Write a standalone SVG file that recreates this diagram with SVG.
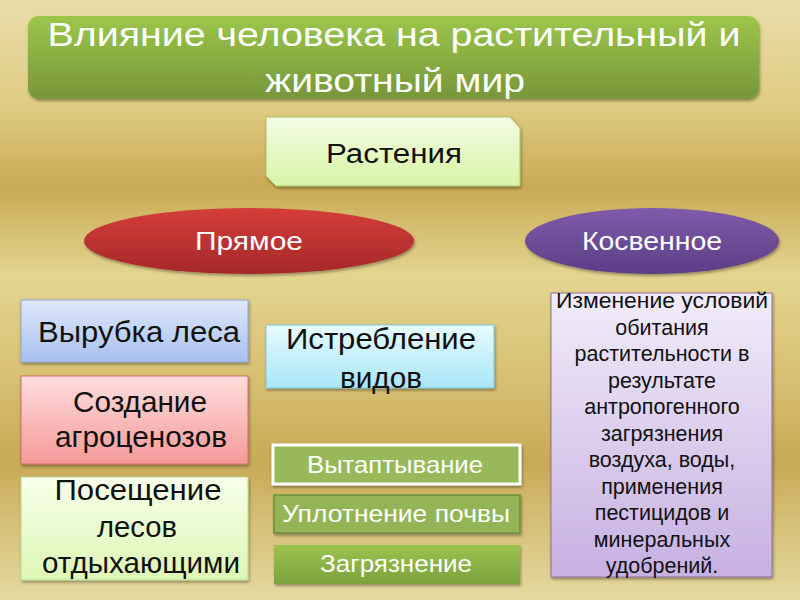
<svg xmlns="http://www.w3.org/2000/svg" width="800" height="600" viewBox="0 0 800 600">
<defs>
<linearGradient id="bg" x1="0" y1="0" x2="0" y2="1">
<stop offset="0" stop-color="#e9dda9"/>
<stop offset="0.18" stop-color="#dfcb80"/>
<stop offset="0.31" stop-color="#c9aa55"/>
<stop offset="0.46" stop-color="#e4d590"/>
<stop offset="0.62" stop-color="#d9c174"/>
<stop offset="0.77" stop-color="#c8aa56"/>
<stop offset="1" stop-color="#e6daa0"/>
</linearGradient>
<linearGradient id="gTitle" x1="0" y1="0" x2="0" y2="1">
<stop offset="0" stop-color="#9cc64a"/>
<stop offset="1" stop-color="#76973a"/>
</linearGradient>
<linearGradient id="gPlant" x1="0" y1="0" x2="0" y2="1">
<stop offset="0" stop-color="#f4fbe2"/>
<stop offset="1" stop-color="#d8f4a6"/>
</linearGradient>
<linearGradient id="gRed" x1="0" y1="0" x2="0" y2="1">
<stop offset="0" stop-color="#d43d39"/>
<stop offset="1" stop-color="#a5282a"/>
</linearGradient>
<linearGradient id="gPurp" x1="0" y1="0" x2="0" y2="1">
<stop offset="0" stop-color="#7f5caa"/>
<stop offset="1" stop-color="#5c3d86"/>
</linearGradient>
<linearGradient id="gBlue" x1="0" y1="0" x2="0" y2="1">
<stop offset="0" stop-color="#dee8fc"/>
<stop offset="1" stop-color="#a8c0ee"/>
</linearGradient>
<linearGradient id="gPink" x1="0" y1="0" x2="0" y2="1">
<stop offset="0" stop-color="#ffdede"/>
<stop offset="1" stop-color="#f39a98"/>
</linearGradient>
<linearGradient id="gLGreen" x1="0" y1="0" x2="0" y2="1">
<stop offset="0" stop-color="#f8ffea"/>
<stop offset="1" stop-color="#ddf6b4"/>
</linearGradient>
<linearGradient id="gCyan" x1="0" y1="0" x2="0" y2="1">
<stop offset="0" stop-color="#e8fbff"/>
<stop offset="1" stop-color="#a8e6f8"/>
</linearGradient>
<linearGradient id="gGreen" x1="0" y1="0" x2="0" y2="1">
<stop offset="0" stop-color="#9cc250"/>
<stop offset="1" stop-color="#7ba33c"/>
</linearGradient>
<linearGradient id="gLav" x1="0" y1="0" x2="0" y2="1">
<stop offset="0" stop-color="#f1ecf9"/>
<stop offset="1" stop-color="#c7b0e2"/>
</linearGradient>
<filter id="sh" x="-10%" y="-10%" width="120%" height="130%">
<feDropShadow dx="1" dy="2" stdDeviation="1.5" flood-color="#000" flood-opacity="0.35"/>
</filter>
</defs>
<style>
text{font-family:"Liberation Sans",Arial,sans-serif;text-anchor:middle}
.w{fill:#ffffff}
.k{fill:#111111}
.big{font-size:29px}
.sm{font-size:24px}
.ind{font-size:21.5px}
</style>
<rect x="0" y="0" width="800" height="600" fill="url(#bg)"/>

<g id="title">
<rect x="28" y="16" width="731" height="83" rx="11" fill="url(#gTitle)" filter="url(#sh)"/>
<text class="w" x="394" y="46" font-size="33" textLength="693" lengthAdjust="spacingAndGlyphs">Влияние человека на растительный и</text>
<text class="w" x="395" y="92" font-size="33" textLength="260" lengthAdjust="spacingAndGlyphs">животный мир</text>
</g>

<g id="plants">
<path d="M266 117 H510 L520 128 V186 H276 L266 176 Z" fill="url(#gPlant)" stroke="#a7c46d" stroke-width="1" filter="url(#sh)"/>
<text class="k" x="394" y="163" font-size="27" textLength="136" lengthAdjust="spacingAndGlyphs">Растения</text>
</g>

<g id="direct">
<ellipse cx="249" cy="241" rx="165" ry="33" fill="url(#gRed)" filter="url(#sh)"/>
<text class="w" x="249" y="250" font-size="25" textLength="108" lengthAdjust="spacingAndGlyphs">Прямое</text>
</g>

<g id="indirect">
<ellipse cx="652" cy="241" rx="127" ry="33" fill="url(#gPurp)" filter="url(#sh)"/>
<text class="w" x="652" y="250" font-size="25" textLength="140" lengthAdjust="spacingAndGlyphs">Косвенное</text>
</g>

<g id="logging">
<rect x="21" y="300" width="227" height="62" fill="url(#gBlue)" stroke="#8ea6d2" stroke-width="1" filter="url(#sh)"/>
<text class="k big" x="139" y="342" textLength="202" lengthAdjust="spacingAndGlyphs">Вырубка леса</text>
</g>

<g id="agro">
<rect x="21" y="376" width="227" height="88" fill="url(#gPink)" stroke="#d46a66" stroke-width="1" filter="url(#sh)"/>
<text class="k big" x="140" y="412" textLength="134" lengthAdjust="spacingAndGlyphs">Создание</text>
<text class="k big" x="141" y="447" textLength="172" lengthAdjust="spacingAndGlyphs">агроценозов</text>
</g>

<g id="visits">
<rect x="21" y="477" width="227" height="103" fill="url(#gLGreen)" stroke="#bcd890" stroke-width="1" filter="url(#sh)"/>
<text class="k big" x="138" y="500" textLength="167" lengthAdjust="spacingAndGlyphs">Посещение</text>
<text class="k big" x="137" y="537" textLength="80" lengthAdjust="spacingAndGlyphs">лесов</text>
<text class="k big" x="141" y="573" textLength="198" lengthAdjust="spacingAndGlyphs">отдыхающими</text>
</g>

<g id="extermination">
<rect x="266" y="325" width="228" height="63" fill="url(#gCyan)" stroke="#7ec8dc" stroke-width="1" filter="url(#sh)"/>
<text class="k big" x="381" y="349" textLength="190" lengthAdjust="spacingAndGlyphs">Истребление</text>
<text class="k big" x="381" y="388" textLength="82" lengthAdjust="spacingAndGlyphs">видов</text>
</g>

<g id="trampling">
<rect x="273" y="445" width="247" height="39" fill="#97b95a" stroke="#ffffff" stroke-width="3" filter="url(#sh)"/>
<text class="w sm" x="395" y="473" textLength="176" lengthAdjust="spacingAndGlyphs">Вытаптывание</text>
</g>

<g id="compaction">
<rect x="274" y="495" width="246" height="38" fill="#93b557" stroke="#6f8e3d" stroke-width="1.5" filter="url(#sh)"/>
<text class="w sm" x="396" y="522" textLength="228" lengthAdjust="spacingAndGlyphs">Уплотнение почвы</text>
</g>

<g id="pollution">
<rect x="274" y="545" width="246" height="39" fill="url(#gGreen)" filter="url(#sh)"/>
<text class="w sm" x="396" y="572" textLength="152" lengthAdjust="spacingAndGlyphs">Загрязнение</text>
</g>

<g id="habitat">
<rect x="551" y="293" width="221" height="284" fill="url(#gLav)" stroke="#8c7399" stroke-width="1" filter="url(#sh)"/>
<text class="k ind" x="662" y="308" textLength="212" lengthAdjust="spacingAndGlyphs">Изменение условий</text>
<text class="k ind" x="662" y="334.5">обитания</text>
<text class="k ind" x="662" y="361">растительности в</text>
<text class="k ind" x="662" y="387.5">результате</text>
<text class="k ind" x="662" y="414">антропогенного</text>
<text class="k ind" x="662" y="440.5">загрязнения</text>
<text class="k ind" x="662" y="467">воздуха, воды,</text>
<text class="k ind" x="662" y="493.5">применения</text>
<text class="k ind" x="662" y="520">пестицидов и</text>
<text class="k ind" x="662" y="546.5">минеральных</text>
<text class="k ind" x="662" y="573">удобрений.</text>
</g>
<g id="connectors"></g>
</svg>
